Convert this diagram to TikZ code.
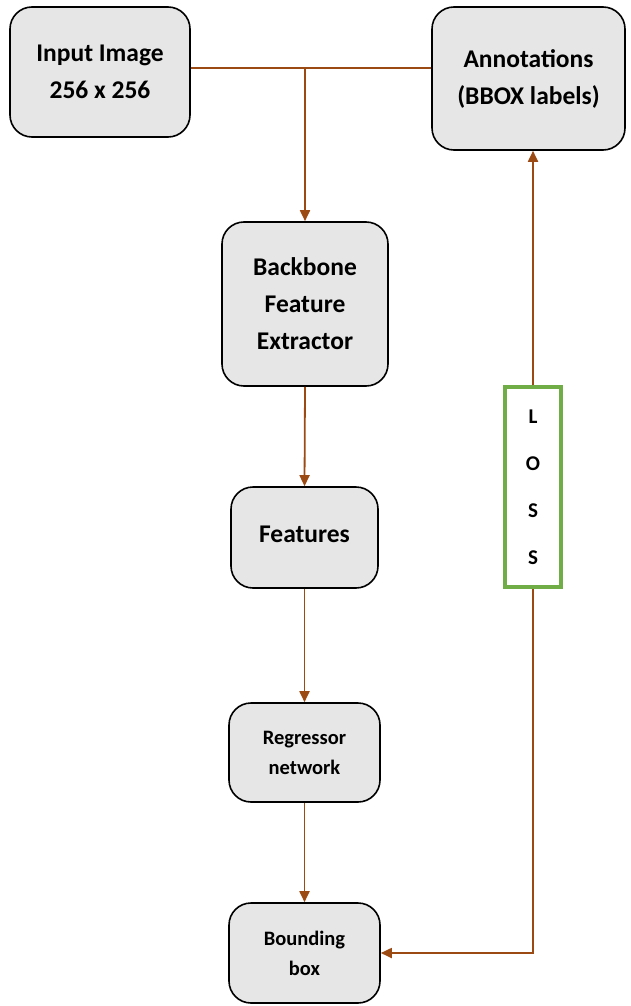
\documentclass[tikz,border=0pt]{standalone}
\usepackage{fontspec}
\setmainfont{Carlito}
\usetikzlibrary{arrows.meta}
\definecolor{boxfill}{HTML}{E7E6E6}
\definecolor{arrowc}{HTML}{9C4A14}
\definecolor{lossgreen}{HTML}{70AD47}
\tikzset{
  rbox/.style={draw=black, line width=1.6pt, fill=boxfill, rounded corners=22pt, align=center, font=\bfseries},
  big/.style={font=\fontsize{25.5}{37}\selectfont\bfseries},
  small/.style={font=\fontsize{20.5}{30}\selectfont\bfseries},
  conn/.style={draw=arrowc, line width=1.8pt},
  arr/.style={conn, -{Triangle[length=11pt,width=10pt]}},
}
\begin{document}
\begin{tikzpicture}[x=1pt,y=-1pt]
\useasboundingbox (0,0) rectangle (631,1006);
\node[rbox, big, minimum width=180pt, minimum height=130pt] (input) at (100,72) {Input Image\\256 x 256};
\node[rbox, big, minimum width=193pt, minimum height=143pt] (annot) at (528.5,78.5) {Annotations\\(BBOX labels)};
\node[rbox, big, minimum width=166pt, minimum height=164pt] (backbone) at (305,304) {Backbone\\Feature\\Extractor};
\node[rbox, big, minimum width=147pt, minimum height=101pt] (features) at (304.5,537.5) {\raisebox{7pt}{Features}};
\node[rbox, small, minimum width=151pt, minimum height=99pt] (regressor) at (304.5,752.5) {Regressor\\network};
\node[rbox, small, minimum width=151pt, minimum height=100pt] (bbox) at (304.5,953) {Bounding\\box};
\node[draw=lossgreen, line width=3.5pt, fill=white, minimum width=56pt, minimum height=200pt, align=center,
      font=\fontsize{21}{47}\selectfont\bfseries] (loss) at (533,487) {L\\O\\S\\S};
\coordinate (split) at (305,68);
\draw[conn] (input.east |- split) -- (annot.west |- split);
\draw[arr] (split) -- (backbone.north);
\draw[arr] (backbone.south) -- (features.north);
\draw[arr] (features.south) -- (regressor.north);
\draw[arr] (regressor.south) -- (bbox.north);
\draw[arr] (loss.north) -- (annot.south -| loss.north);
\coordinate (corner) at (533,953);
\draw[arr] (loss.south) -- (corner) -- (bbox.east |- corner);
\end{tikzpicture}
\end{document}
